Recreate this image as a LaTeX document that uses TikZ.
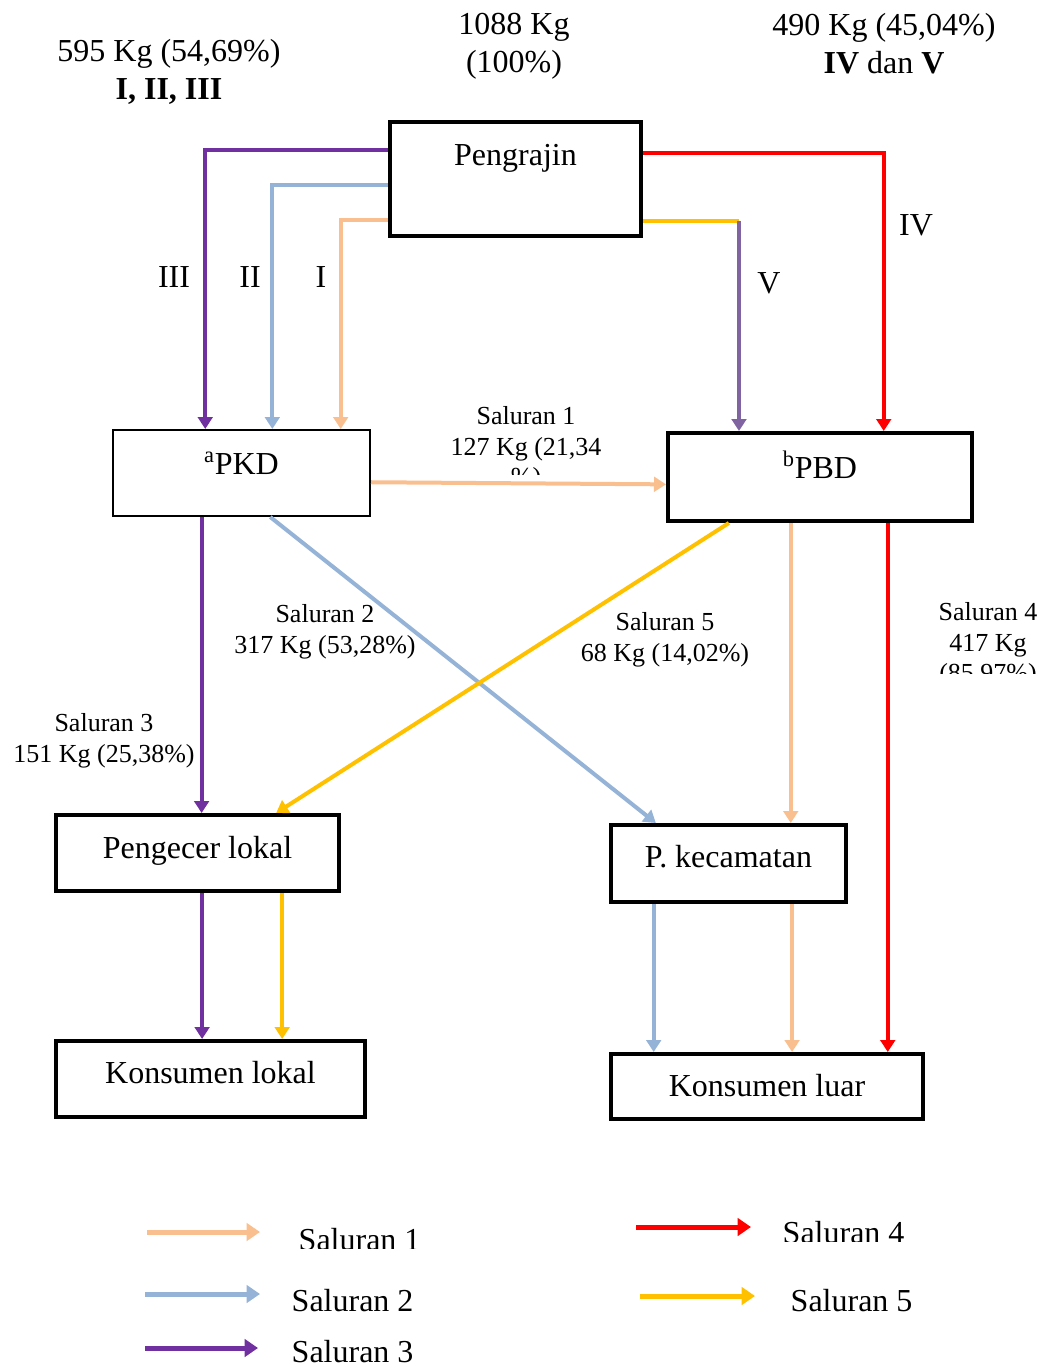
\documentclass[tikz,border=0pt]{standalone}
\usepackage{fontspec}
\setmainfont{Liberation Serif}
\usetikzlibrary{arrows.meta,calc}
\definecolor{peach}{HTML}{F9BF8F}
\definecolor{lightblue}{HTML}{95B3D7}
\definecolor{darkpurple}{HTML}{7030A0}
\definecolor{midpurple}{HTML}{8064A2}
\definecolor{gold}{HTML}{FFC000}
\newcommand{\bigfont}{\fontsize{24}{28.5}\selectfont}
\newcommand{\smallfont}{\fontsize{19.5}{23}\selectfont}

\begin{document}
\begin{tikzpicture}[x=0.75pt,y=-0.75pt,
  every node/.style={font=\bigfont},
  box/.style={draw,line width=3pt,inner sep=0pt},
  thinbox/.style={draw,line width=1.5pt,inner sep=0pt},
  boxtext/.style={label={[anchor=center,yshift=-25.5pt]north:#1}},
  boxtextlow/.style={label={[anchor=center,yshift=-28.5pt]north:#1}},
  flow/.style={line width=3pt,-{Triangle[width=11pt,length=9pt]}},
  legendarrow/.style={line width=3.75pt,-{Triangle[width=13pt,length=10pt]}},
  small/.style={font=\smallfont,align=center},
  big/.style={font=\bigfont,align=center}]
  \useasboundingbox (0,0) rectangle (1043,1366);

  % boxes
  \node[box,minimum width=251*0.75pt,minimum height=114*0.75pt,boxtextlow=Pengrajin] (peng) at (515.5,179) {};
  \node[thinbox,minimum width=257*0.75pt,minimum height=86*0.75pt,boxtext={\textsuperscript{a}PKD}] (pkd) at (241.5,473) {};
  \node[box,minimum width=304*0.75pt,minimum height=88*0.75pt,boxtext={\textsuperscript{b}PBD}] (pbd) at (820,477) {};
  \node[box,minimum width=283*0.75pt,minimum height=76*0.75pt,boxtextlow=Pengecer lokal] (pengecer) at (197.5,853) {};
  \node[box,minimum width=235*0.75pt,minimum height=77*0.75pt,boxtext=P. kecamatan] (pkec) at (728.5,863.5) {};
  \node[box,minimum width=309*0.75pt,minimum height=76*0.75pt,boxtext=Konsumen lokal] (klokal) at (210.5,1079) {};
  \node[box,minimum width=312*0.75pt,minimum height=65*0.75pt,boxtext=Konsumen luar] (kluar) at (767,1086.5) {};

  % top figures
  \node[big] (kiri) at (169,72) {595 Kg (54,69\%)\\\textbf{I, II, III}};
  \node[big] (total) at (514,46) {1088 Kg\\(100\%)};
  \node[big] (kanan) at (884,44) {490 Kg (45,04\%)\\\textbf{IV} dan \textbf{V}};

  % Pengrajin -> PKD / PBD
  \draw[flow,darkpurple] ($(peng.north west)!0.254!(peng.south west)$) -| ($(pkd.north west)!0.36!(pkd.north east)$);
  \draw[flow,lightblue] ($(peng.north west)!0.553!(peng.south west)$) -| ($(pkd.north west)!0.619!(pkd.north east)$);
  \draw[flow,peach] ($(peng.north west)!0.851!(peng.south west)$) -| ($(pkd.north west)!0.883!(pkd.north east)$);
  \draw[flow,red] ($(peng.north east)!0.28!(peng.south east)$) -| ($(pbd.north west)!0.707!(pbd.north east)$);
  \coordinate (vout) at ($(peng.north east)!0.86!(peng.south east)$);
  \coordinate (vin) at ($(pbd.north west)!0.237!(pbd.north east)$);
  \coordinate (vbend) at (vin |- vout);
  \draw[line width=3pt,gold] (vout) -- (vbend);
  \draw[flow,midpurple] (vbend) -- (vin);

  \node (III) at (174,277) {III};
  \node (II) at (250,277) {II};
  \node (I) at (321,277) {I};
  \node (V) at (769,283) {V};
  \node (IV) at (916,225) {IV};

  % PKD / PBD -> pedagang
  \draw[flow,peach] ($(pkd.north east)!0.605!(pkd.south east)$) -- ($(pbd.north west)!0.58!(pbd.south west)$);
  \coordinate (s3) at ($(pkd.south west)!0.346!(pkd.south east)$);
  \draw[flow,darkpurple] (s3) -- (s3 |- pengecer.north);
  \draw[flow,lightblue] ($(pkd.south west)!0.611!(pkd.south east)$) -- ($(pkec.north west)!0.196!(pkec.north east)$);
  \draw[flow,gold] ($(pbd.south west)!0.204!(pbd.south east)$) -- ($(pengecer.north west)!0.774!(pengecer.north east)$);
  \coordinate (p1) at ($(pbd.south west)!0.405!(pbd.south east)$);
  \draw[flow,peach] (p1) -- (p1 |- pkec.north);
  \coordinate (p4) at ($(pbd.south west)!0.72!(pbd.south east)$);
  \draw[flow,red] (p4) -- (p4 |- kluar.north);

  % pedagang -> konsumen
  \coordinate (l3) at ($(pengecer.south west)!0.516!(pengecer.south east)$);
  \draw[flow,darkpurple] (l3) -- (l3 |- klokal.north);
  \coordinate (l5) at ($(pengecer.south west)!0.795!(pengecer.south east)$);
  \draw[flow,gold] (l5) -- (l5 |- klokal.north);
  \coordinate (k2) at ($(pkec.south west)!0.187!(pkec.south east)$);
  \draw[flow,lightblue] (k2) -- (k2 |- kluar.north);
  \coordinate (k1) at ($(pkec.south west)!0.766!(pkec.south east)$);
  \draw[flow,peach] (k1) -- (k1 |- kluar.north);

  % channel labels
  \begin{scope}
    \clip (380,390) rectangle (700,474);
    \node[small] (sal1) at (526,449) {Saluran 1\\127 Kg (21,34\\\%)};
  \end{scope}
  \node[small] (sal2) at (325,632) {Saluran 2\\317 Kg (53,28\%)};
  \node[small] (sal3) at (104,741) {Saluran 3\\151 Kg (25,38\%)};
  \node[small] (sal5) at (665,640) {Saluran 5\\68 Kg (14,02\%)};
  \begin{scope}
    \clip (900,590) rectangle (1043,673);
    \node[small] (sal4) at (988,645) {Saluran 4\\417 Kg\\(85,97\%)};
  \end{scope}

  % legend
  \draw[legendarrow,peach] (147,1232) -- (260,1232);
  \draw[legendarrow,lightblue] (145,1294) -- (260,1294);
  \draw[legendarrow,darkpurple] (145,1348) -- (258,1348);
  \draw[legendarrow,red] (636,1227) -- (751,1227);
  \draw[legendarrow,gold] (640,1296) -- (755,1296);
  \begin{scope}
    \clip (280,1200) rectangle (450,1248);
    \node[anchor=west] (leg1) at (294,1240) {Saluran 1};
  \end{scope}
  \node[anchor=west] (leg2) at (287,1301) {Saluran 2};
  \node[anchor=west] (leg3) at (287,1352) {Saluran 3};
  \begin{scope}
    \clip (760,1200) rectangle (950,1241);
    \node[anchor=west] (leg4) at (778,1233) {Saluran 4};
  \end{scope}
  \node[anchor=west] (leg5) at (786,1301) {Saluran 5};
\end{tikzpicture}
\end{document}
